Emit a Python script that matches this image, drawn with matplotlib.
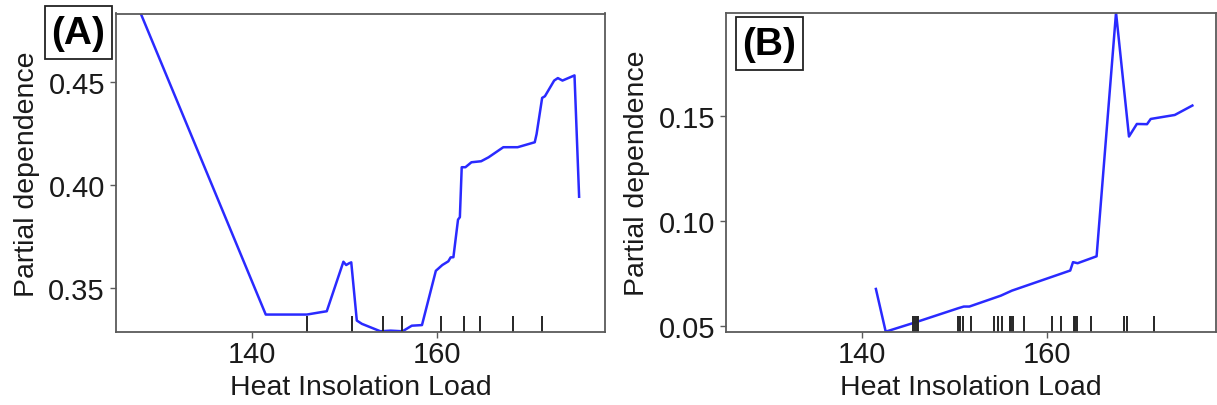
import matplotlib
matplotlib.use("Agg")
import matplotlib.pyplot as plt
from matplotlib.patches import Rectangle

plt.rcParams['font.family'] = ['Liberation Sans', 'DejaVu Sans']

# ---- Data ----
x_label = "Heat Insolation Load"
y_label = "Partial dependence"
x_ticks = [140, 160]

a_x = [125.9, 141.5, 145.95, 147.4, 148.1, 149.9, 150.2, 150.5, 150.75, 151.35, 151.9,
       153.9, 155.0, 156.3, 157.3, 158.4, 159.9, 160.6, 161.25, 161.5, 161.8, 162.3,
       162.5, 162.7, 163.1, 163.75, 164.8, 165.6, 167.2, 168.75, 170.6, 170.8, 171.4,
       171.7, 172.7, 173.1, 173.6, 174.9, 175.4]
a_y = [0.5055, 0.3372, 0.3372, 0.3383, 0.3388, 0.3628, 0.3612, 0.3620, 0.3625, 0.3343, 0.3327,
       0.3291, 0.3294, 0.3291, 0.3318, 0.3321, 0.3584, 0.3612, 0.3630, 0.3649, 0.3650, 0.3832,
       0.3844, 0.4086, 0.4086, 0.4110, 0.4115, 0.4134, 0.4183, 0.4183, 0.4207, 0.4247, 0.4422,
       0.4430, 0.4506, 0.4518, 0.4506, 0.4531, 0.3943]
a_rug = [145.95, 150.8, 154.2, 156.2, 160.5, 162.95, 164.7, 168.3, 171.4]

b_x = [141.5, 142.56, 145.8, 150.4, 151.0, 151.6, 155.0, 156.2, 162.5, 162.8, 163.3,
       165.35, 167.45, 168.85, 169.7, 170.8, 171.2, 173.8, 175.7]
b_y = [0.0675, 0.0471, 0.0516, 0.0583, 0.0591, 0.0591, 0.0643, 0.0667, 0.0763, 0.0803, 0.0798,
       0.0831, 0.1995, 0.1403, 0.1463, 0.1462, 0.1487, 0.1506, 0.1551]
b_rug = [145.5, 145.7, 145.9, 146.05, 150.4, 150.6, 150.9, 151.8, 154.3, 154.7, 155.1,
         156.0, 156.15, 156.3, 157.5, 160.5, 161.55, 162.9, 163.05, 163.25, 164.7,
         168.3, 168.65, 171.5]

a_yticks = [0.35, 0.40, 0.45]
b_yticks = [0.05, 0.10, 0.15]
panel_labels = ["(A)", "(B)"]

W, H = 1217, 406
fig = plt.figure(figsize=(W / 100, H / 100), dpi=100)

axA = fig.add_axes([116 / W, 1 - 333.3 / H, 489 / W, 318.8 / H])
axB = fig.add_axes([726 / W, 1 - 333.3 / H, 489.5 / W, 319.3 / H])

line_color = '#2a2aff'
spine_color = '#5a5a5a'


def style(ax, xs, ys, rug, yticks, ylim):
    ax.plot(xs, ys, color=line_color, lw=1.8, solid_joinstyle='round')
    ax.vlines(rug, 0, 0.05, transform=ax.get_xaxis_transform(), color='#262626', lw=1.4)
    ax.set_xlim(125.3, 178.2)
    ax.set_ylim(*ylim)
    ax.set_xticks(x_ticks)
    ax.set_yticks(yticks)
    ax.set_yticklabels([f"{v:.2f}" for v in yticks])
    for s in ax.spines.values():
        s.set_color(spine_color)
        s.set_linewidth(1.3)
    ax.tick_params(axis='both', direction='out', length=4, width=1.0, color=spine_color,
                   labelcolor='#1a1a1a', labelsize=21)
    ax.tick_params(axis='x', pad=1.5)
    ax.tick_params(axis='y', pad=4)
    ax.set_xlabel(x_label, fontsize=20.5, color='#1a1a1a')
    ax.set_ylabel(y_label, fontsize=20.5, color='#1a1a1a')
    ax.yaxis.set_label_coords(-0.155, 0.5)
    ax.xaxis.set_label_coords(0.5, -0.13)


style(axA, a_x, a_y, a_rug, a_yticks, (0.3286, 0.4831))
style(axB, b_x, b_y, b_rug, b_yticks, (0.0468, 0.1993))

# panel label boxes
for (x0, y0), lab in zip([(45, 7.3), (736, 18.3)], panel_labels):
    fig.add_artist(Rectangle((x0 / W, 1 - (y0 + 53) / H), 67 / W, 53 / H,
                             transform=fig.transFigure, fill=False, ec='#222222', lw=1.3))
    fig.text((x0 + 33.5) / W, 1 - (y0 + 26.5) / H, lab, fontsize=28, fontweight='bold',
             ha='center', va='center', color='black')

fig.savefig("out.png", dpi=100)
